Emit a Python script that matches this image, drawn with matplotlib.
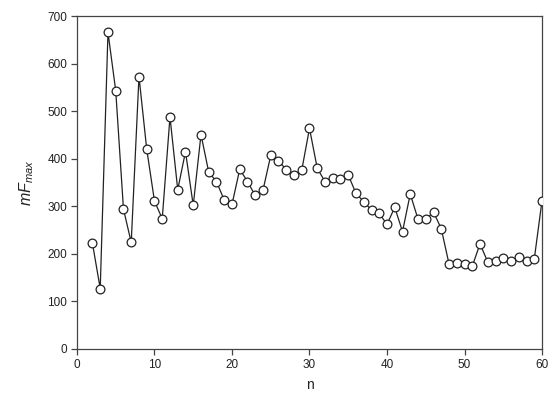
import numpy as np
import matplotlib.pyplot as plt

plt.rcParams['font.family'] = ['Liberation Sans', 'DejaVu Sans']
plt.rcParams['mathtext.fontset'] = 'custom'
plt.rcParams['mathtext.it'] = 'Liberation Sans:italic'
plt.rcParams['mathtext.rm'] = 'Liberation Sans'

# n from 2 to 60
n = list(range(2, 61))
mf_max = [222, 127, 666, 543, 294, 224, 573, 420, 311, 274,
          488, 335, 415, 302, 451, 372, 352, 313, 304, 378,
          352, 323, 334, 407, 396, 377, 365, 376, 464, 380,
          352, 360, 357, 366, 327, 310, 292, 285, 262, 298,
          247, 326, 273, 273, 288, 253, 179, 180, 179, 174,
          221, 183, 184, 191, 186, 193, 184, 189, 312]

x_ticks = [0, 10, 20, 30, 40, 50, 60]
y_ticks = [0, 100, 200, 300, 400, 500, 600, 700]

fig = plt.figure(figsize=(5.51, 4.03), dpi=100)
ax = fig.add_axes([0.1397, 0.134, 0.844, 0.826])

ax.plot(n, mf_max, color='#222222', lw=0.9, marker='o', ms=6.3,
        mfc='white', mec='#222222', mew=0.9, zorder=3)

ax.set_xlim(0, 60)
ax.set_ylim(0, 700)
ax.set_xticks(x_ticks)
ax.set_yticks(y_ticks)

for s in ax.spines.values():
    s.set_color('#444444')
    s.set_linewidth(0.9)

ax.tick_params(direction='out', length=4, width=0.9, color='#444444',
               labelsize=8.5, labelcolor='#222222', pad=3)

ax.set_xlabel('n', fontsize=10, color='#222222', labelpad=5)
ax.set_ylabel(r'$mF_{max}$', fontsize=11.5, color='#222222', labelpad=8)

fig.savefig('out.png', dpi=100)
